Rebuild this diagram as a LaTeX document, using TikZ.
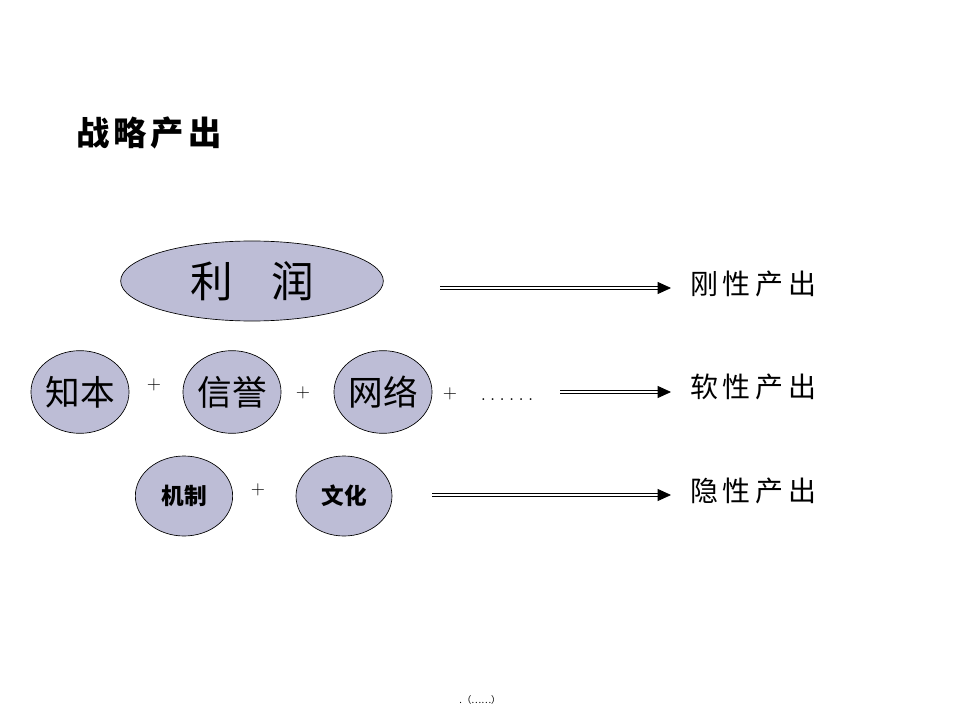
\documentclass[tikz,border=0pt]{standalone}
\usepackage{fontspec}
\usetikzlibrary{shapes.geometric,arrows.meta}
\newfontfamily\cjk{Noto Sans CJK SC}
\definecolor{bubble}{RGB}{189,189,214}

\begin{document}
\begin{tikzpicture}[x=0.75pt, y=-0.75pt, font=\cjk,
  bubble/.style={draw, ellipse, fill=bubble, line width=0.5pt, inner sep=0pt},
  plus/.style={font=\rmfamily\fontsize{14}{16}\selectfont},
  outlabel/.style={anchor=west, inner sep=0pt, font=\cjk\fontsize{21}{24}\selectfont},
  dbl/.style={double, double distance=2pt, line width=0.6pt, -{Triangle[length=10pt, width=9pt]}}]

\useasboundingbox (0,0) rectangle (960,720);

% Title
\node[anchor=west, inner sep=0pt, font=\cjk\bfseries\fontsize{25}{28}\selectfont] (title) at (76,133) {战\kern3pt 略\kern3pt 产\kern3pt 出};

% Row 1
\node[bubble, minimum width=197pt, minimum height=60pt, font=\cjk\fontsize{32}{36}\selectfont] (profit) at (252,281) {利\hspace{0.9em}润};

% Row 2
\node[bubble, minimum width=71pt, minimum height=62pt, font=\cjk\fontsize{26}{30}\selectfont] (know) at (80,392) {知本};
\node[bubble, minimum width=71pt, minimum height=62pt, font=\cjk\fontsize{26}{30}\selectfont] (trust) at (232,392) {信誉};
\node[bubble, minimum width=71pt, minimum height=62pt, font=\cjk\fontsize{26}{30}\selectfont] (net) at (383,392) {网络};
\node[plus] (p1) at (154,385) {+};
\node[plus] (p2) at (303,393) {+};
\node[plus] (p3) at (450,394) {+};
\node[anchor=base, font=\rmfamily\fontsize{17}{20}\selectfont] (more) at (507,400) {.\,.\,.\,.\,.\,.};

% Row 3
\node[bubble, minimum width=73pt, minimum height=60pt, font=\cjk\bfseries\fontsize{17}{20}\selectfont] (mech) at (184,496) {机制};
\node[bubble, minimum width=72pt, minimum height=60pt, font=\cjk\bfseries\fontsize{17}{20}\selectfont] (cult) at (344,496) {文化};
\node[plus] (p4) at (258,490) {+};

% Outputs
\node[outlabel] (hard) at (690,284) {刚\,性\,产\,出};
\node[outlabel] (soft) at (690,387) {软\,性\,产\,出};
\node[outlabel] (hide) at (690,491) {隐\,性\,产\,出};

\coordinate (a1) at (440,288);
\coordinate (a2) at (560,392);
\coordinate (a3) at (432,495);
\coordinate (b1) at (671,288);
\coordinate (b2) at (671,392);
\coordinate (b3) at (671,495);
\draw[dbl] (a1) -- (b1);
\draw[dbl] (a2) -- (b2);
\draw[dbl] (a3) -- (b3);

% Footer
\node[font=\cjk\fontsize{7}{8}\selectfont] (foot) at (480,700) {.（……）};

\end{tikzpicture}
\end{document}
